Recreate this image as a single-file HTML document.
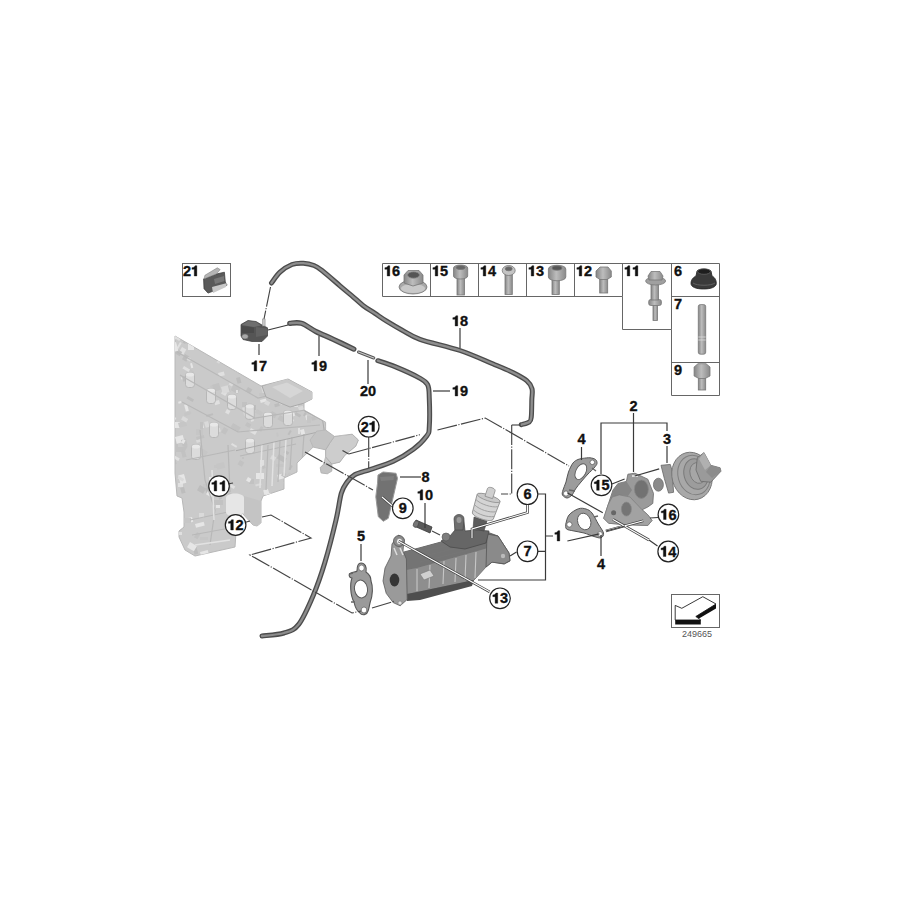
<!DOCTYPE html>
<html><head><meta charset="utf-8">
<style>
html,body{margin:0;padding:0;background:#fff;width:900px;height:900px;overflow:hidden}
svg{display:block}
.t{font-family:"Liberation Sans",sans-serif;font-weight:bold;font-size:14.5px;fill:#111;stroke:#111;stroke-width:0.35}
.t path{fill:#111;stroke:#111}
.ld{stroke:#3a3a3a;stroke-width:1.2;fill:none}
.bx{stroke:#666;stroke-width:1;fill:none}
.ds{stroke:#444;stroke-width:1.15;fill:none;stroke-dasharray:20 1.5 1.2 1.5}
.c{fill:#fff;stroke:#222;stroke-width:1.2}
</style></head><body>
<svg width="900" height="900" viewBox="0 0 900 900">
<rect width="900" height="900" fill="#fff"/>

<!-- ENGINE BLOCK -->
<g id="engine">
<defs><clipPath id="ec"><path d="M175,336 L261,386 L288,379 L312,392 L312,399 L304,403 L304,410 L325.6,422.2 L325.6,430 L334.4,436.4 L352.2,434.2 L358.4,440 L355.8,446.2 L345.1,455.1 L339.8,462.2 L331.8,464 L331.8,471.1 L327.3,473.8 L321.1,472.9 L320.2,467.6 L323.8,464 L325.6,456.9 L325.6,449.8 L313.1,447.1 L297,463 L297,472 L284,478 L284,489 L263,496 L261,501 L261,523 L257,526 L253,525 L242,513 L236,532 L235,547 L195,556 L185,550 L179,537 L179,531 L184,527 L184,512 L182,498 L177,496 L175,473 Z"/></clipPath></defs>
<path fill="#cacaca" stroke="#b8b8b8" stroke-width="1" d="M175,336 L261,386 L288,379 L312,392 L312,399 L304,403 L304,410 L325.6,422.2 L325.6,430 L334.4,436.4 L352.2,434.2 L358.4,440 L355.8,446.2 L345.1,455.1 L339.8,462.2 L331.8,464 L331.8,471.1 L327.3,473.8 L321.1,472.9 L320.2,467.6 L323.8,464 L325.6,456.9 L325.6,449.8 L313.1,447.1 L297,463 L297,472 L284,478 L284,489 L263,496 L261,501 L261,523 L257,526 L253,525 L242,513 L236,532 L235,547 L195,556 L185,550 L179,537 L179,531 L184,527 L184,512 L182,498 L177,496 L175,473 Z"/>
<g clip-path="url(#ec)">
<rect x="233" y="368" width="7" height="2" fill="#c6c6c6" transform="rotate(30 233 368)"/><rect x="241" y="347" width="6" height="2" fill="#e6e6e6" transform="rotate(0 241 347)"/><rect x="185" y="354" width="5" height="6" fill="#bdbdbd" transform="rotate(30 185 354)"/><rect x="291" y="465" width="2" height="5" fill="#bdbdbd" transform="rotate(30 291 465)"/><rect x="181" y="526" width="4" height="3" fill="#bdbdbd" transform="rotate(75 181 526)"/><rect x="230" y="517" width="3" height="5" fill="#dadada" transform="rotate(30 230 517)"/><rect x="242" y="457" width="2" height="2" fill="#c2c2c2" transform="rotate(0 242 457)"/><rect x="300" y="430" width="4" height="5" fill="#e6e6e6" transform="rotate(-15 300 430)"/><rect x="228" y="512" width="7" height="3" fill="#c6c6c6" transform="rotate(-15 228 512)"/><rect x="271" y="530" width="7" height="3" fill="#bdbdbd" transform="rotate(30 271 530)"/><rect x="268" y="371" width="4" height="7" fill="#e6e6e6" transform="rotate(30 268 371)"/><rect x="353" y="351" width="6" height="6" fill="#e0e0e0" transform="rotate(-15 353 351)"/><rect x="303" y="467" width="6" height="4" fill="#bdbdbd" transform="rotate(-15 303 467)"/><rect x="261" y="483" width="2" height="6" fill="#dadada" transform="rotate(75 261 483)"/><rect x="359" y="518" width="4" height="4" fill="#dadada" transform="rotate(-15 359 518)"/><rect x="176" y="437" width="3" height="3" fill="#bdbdbd" transform="rotate(30 176 437)"/><rect x="316" y="363" width="4" height="4" fill="#e6e6e6" transform="rotate(30 316 363)"/><rect x="203" y="424" width="4" height="3" fill="#e6e6e6" transform="rotate(75 203 424)"/><rect x="224" y="427" width="5" height="6" fill="#c2c2c2" transform="rotate(30 224 427)"/><rect x="188" y="368" width="7" height="2" fill="#c6c6c6" transform="rotate(30 188 368)"/><rect x="221" y="335" width="5" height="4" fill="#c6c6c6" transform="rotate(-15 221 335)"/><rect x="351" y="489" width="6" height="5" fill="#dadada" transform="rotate(30 351 489)"/><rect x="258" y="529" width="9" height="5" fill="#c6c6c6" transform="rotate(0 258 529)"/><rect x="247" y="422" width="5" height="4" fill="#c2c2c2" transform="rotate(30 247 422)"/><rect x="357" y="433" width="3" height="5" fill="#bdbdbd" transform="rotate(30 357 433)"/><rect x="279" y="454" width="9" height="5" fill="#bdbdbd" transform="rotate(30 279 454)"/><rect x="287" y="367" width="4" height="4" fill="#e0e0e0" transform="rotate(0 287 367)"/><rect x="195" y="524" width="9" height="4" fill="#e6e6e6" transform="rotate(-15 195 524)"/><rect x="188" y="357" width="4" height="3" fill="#dadada" transform="rotate(30 188 357)"/><rect x="269" y="380" width="9" height="4" fill="#dadada" transform="rotate(75 269 380)"/><rect x="344" y="504" width="4" height="5" fill="#bdbdbd" transform="rotate(-15 344 504)"/><rect x="269" y="537" width="4" height="3" fill="#c6c6c6" transform="rotate(75 269 537)"/><rect x="234" y="384" width="8" height="7" fill="#c2c2c2" transform="rotate(30 234 384)"/><rect x="326" y="500" width="4" height="5" fill="#e0e0e0" transform="rotate(30 326 500)"/><rect x="358" y="511" width="5" height="3" fill="#c6c6c6" transform="rotate(-15 358 511)"/><rect x="256" y="544" width="9" height="7" fill="#e0e0e0" transform="rotate(30 256 544)"/><rect x="213" y="385" width="3" height="3" fill="#c6c6c6" transform="rotate(75 213 385)"/><rect x="330" y="441" width="7" height="6" fill="#bdbdbd" transform="rotate(30 330 441)"/><rect x="343" y="509" width="7" height="4" fill="#c2c2c2" transform="rotate(0 343 509)"/><rect x="320" y="408" width="8" height="7" fill="#e6e6e6" transform="rotate(0 320 408)"/><rect x="247" y="546" width="7" height="3" fill="#c2c2c2" transform="rotate(30 247 546)"/><rect x="200" y="537" width="8" height="3" fill="#c6c6c6" transform="rotate(0 200 537)"/><rect x="296" y="412" width="6" height="3" fill="#bdbdbd" transform="rotate(30 296 412)"/><rect x="271" y="543" width="5" height="6" fill="#c2c2c2" transform="rotate(30 271 543)"/><rect x="219" y="400" width="4" height="5" fill="#e0e0e0" transform="rotate(75 219 400)"/><rect x="251" y="363" width="8" height="4" fill="#e6e6e6" transform="rotate(75 251 363)"/><rect x="325" y="450" width="8" height="6" fill="#c2c2c2" transform="rotate(75 325 450)"/><rect x="201" y="448" width="8" height="6" fill="#c6c6c6" transform="rotate(30 201 448)"/><rect x="318" y="368" width="3" height="5" fill="#bdbdbd" transform="rotate(75 318 368)"/><rect x="184" y="487" width="6" height="4" fill="#bdbdbd" transform="rotate(75 184 487)"/><rect x="183" y="377" width="2" height="2" fill="#e6e6e6" transform="rotate(75 183 377)"/><rect x="177" y="534" width="2" height="4" fill="#c6c6c6" transform="rotate(75 177 534)"/><rect x="268" y="489" width="5" height="5" fill="#e6e6e6" transform="rotate(75 268 489)"/><rect x="349" y="491" width="8" height="7" fill="#e0e0e0" transform="rotate(75 349 491)"/><rect x="340" y="379" width="5" height="4" fill="#e6e6e6" transform="rotate(0 340 379)"/><rect x="231" y="484" width="5" height="3" fill="#e0e0e0" transform="rotate(30 231 484)"/><rect x="341" y="369" width="7" height="5" fill="#c2c2c2" transform="rotate(-15 341 369)"/><rect x="338" y="551" width="4" height="7" fill="#e6e6e6" transform="rotate(0 338 551)"/><rect x="203" y="484" width="4" height="6" fill="#c6c6c6" transform="rotate(0 203 484)"/><rect x="236" y="378" width="4" height="6" fill="#bdbdbd" transform="rotate(-15 236 378)"/><rect x="276" y="433" width="2" height="4" fill="#c6c6c6" transform="rotate(-15 276 433)"/><rect x="268" y="348" width="9" height="6" fill="#bdbdbd" transform="rotate(30 268 348)"/><rect x="222" y="343" width="7" height="3" fill="#c2c2c2" transform="rotate(0 222 343)"/><rect x="332" y="485" width="9" height="4" fill="#c6c6c6" transform="rotate(75 332 485)"/><rect x="279" y="491" width="3" height="2" fill="#dadada" transform="rotate(30 279 491)"/><rect x="252" y="350" width="9" height="5" fill="#e0e0e0" transform="rotate(30 252 350)"/><rect x="286" y="384" width="4" height="3" fill="#bdbdbd" transform="rotate(-15 286 384)"/><rect x="359" y="428" width="8" height="5" fill="#bdbdbd" transform="rotate(75 359 428)"/><rect x="305" y="544" width="9" height="3" fill="#c2c2c2" transform="rotate(30 305 544)"/><rect x="347" y="475" width="6" height="3" fill="#e6e6e6" transform="rotate(75 347 475)"/><rect x="298" y="395" width="8" height="7" fill="#bdbdbd" transform="rotate(30 298 395)"/><rect x="175" y="447" width="9" height="5" fill="#c2c2c2" transform="rotate(0 175 447)"/><rect x="192" y="517" width="5" height="4" fill="#e6e6e6" transform="rotate(75 192 517)"/><rect x="230" y="382" width="4" height="3" fill="#dadada" transform="rotate(30 230 382)"/><rect x="248" y="412" width="2" height="3" fill="#bdbdbd" transform="rotate(-15 248 412)"/><rect x="253" y="346" width="7" height="4" fill="#c6c6c6" transform="rotate(-15 253 346)"/><rect x="285" y="489" width="2" height="3" fill="#e0e0e0" transform="rotate(0 285 489)"/><rect x="173" y="416" width="4" height="7" fill="#e0e0e0" transform="rotate(30 173 416)"/><rect x="178" y="532" width="4" height="3" fill="#e0e0e0" transform="rotate(0 178 532)"/><rect x="188" y="396" width="7" height="3" fill="#bdbdbd" transform="rotate(30 188 396)"/><rect x="222" y="354" width="5" height="2" fill="#bdbdbd" transform="rotate(-15 222 354)"/><rect x="229" y="386" width="6" height="5" fill="#c2c2c2" transform="rotate(75 229 386)"/><rect x="245" y="407" width="9" height="3" fill="#dadada" transform="rotate(75 245 407)"/><rect x="293" y="344" width="8" height="6" fill="#dadada" transform="rotate(0 293 344)"/><rect x="310" y="516" width="3" height="5" fill="#c6c6c6" transform="rotate(75 310 516)"/><rect x="329" y="514" width="8" height="5" fill="#dadada" transform="rotate(30 329 514)"/><rect x="188" y="343" width="6" height="7" fill="#e6e6e6" transform="rotate(0 188 343)"/><rect x="277" y="475" width="6" height="5" fill="#e6e6e6" transform="rotate(-15 277 475)"/><rect x="173" y="513" width="7" height="5" fill="#c6c6c6" transform="rotate(30 173 513)"/><rect x="296" y="349" width="7" height="3" fill="#bdbdbd" transform="rotate(-15 296 349)"/><rect x="216" y="503" width="4" height="5" fill="#e6e6e6" transform="rotate(0 216 503)"/><rect x="331" y="351" width="8" height="3" fill="#bdbdbd" transform="rotate(75 331 351)"/><rect x="291" y="378" width="6" height="4" fill="#dadada" transform="rotate(-15 291 378)"/><rect x="289" y="364" width="5" height="4" fill="#dadada" transform="rotate(30 289 364)"/><rect x="302" y="485" width="4" height="5" fill="#e6e6e6" transform="rotate(0 302 485)"/><rect x="260" y="361" width="8" height="3" fill="#bdbdbd" transform="rotate(0 260 361)"/><rect x="175" y="437" width="8" height="7" fill="#e6e6e6" transform="rotate(-15 175 437)"/><rect x="245" y="539" width="9" height="2" fill="#bdbdbd" transform="rotate(30 245 539)"/><rect x="313" y="393" width="5" height="5" fill="#dadada" transform="rotate(75 313 393)"/><rect x="225" y="359" width="5" height="4" fill="#e6e6e6" transform="rotate(0 225 359)"/><rect x="177" y="335" width="5" height="4" fill="#e0e0e0" transform="rotate(30 177 335)"/><rect x="250" y="418" width="3" height="4" fill="#e0e0e0" transform="rotate(-15 250 418)"/><rect x="330" y="361" width="8" height="6" fill="#dadada" transform="rotate(-15 330 361)"/><rect x="220" y="349" width="5" height="6" fill="#bdbdbd" transform="rotate(-15 220 349)"/><rect x="346" y="503" width="8" height="3" fill="#bdbdbd" transform="rotate(-15 346 503)"/><rect x="291" y="367" width="9" height="4" fill="#e0e0e0" transform="rotate(30 291 367)"/><rect x="317" y="510" width="5" height="2" fill="#dadada" transform="rotate(0 317 510)"/><rect x="344" y="545" width="6" height="6" fill="#bdbdbd" transform="rotate(0 344 545)"/><rect x="257" y="503" width="7" height="3" fill="#bdbdbd" transform="rotate(75 257 503)"/><rect x="196" y="440" width="4" height="3" fill="#dadada" transform="rotate(-15 196 440)"/><rect x="248" y="387" width="5" height="5" fill="#bdbdbd" transform="rotate(30 248 387)"/><rect x="293" y="351" width="6" height="6" fill="#c6c6c6" transform="rotate(30 293 351)"/><rect x="257" y="409" width="7" height="4" fill="#c6c6c6" transform="rotate(30 257 409)"/><rect x="218" y="373" width="6" height="4" fill="#e0e0e0" transform="rotate(-15 218 373)"/><rect x="324" y="379" width="2" height="6" fill="#e6e6e6" transform="rotate(0 324 379)"/><rect x="312" y="381" width="4" height="6" fill="#e6e6e6" transform="rotate(-15 312 381)"/><rect x="280" y="415" width="7" height="5" fill="#c2c2c2" transform="rotate(30 280 415)"/><rect x="223" y="390" width="5" height="4" fill="#e0e0e0" transform="rotate(30 223 390)"/><rect x="196" y="429" width="7" height="6" fill="#c6c6c6" transform="rotate(0 196 429)"/><rect x="172" y="422" width="8" height="6" fill="#e6e6e6" transform="rotate(0 172 422)"/><rect x="219" y="358" width="3" height="5" fill="#dadada" transform="rotate(30 219 358)"/><rect x="349" y="496" width="7" height="6" fill="#e6e6e6" transform="rotate(30 349 496)"/><rect x="276" y="343" width="7" height="3" fill="#bdbdbd" transform="rotate(-15 276 343)"/><rect x="353" y="474" width="6" height="4" fill="#bdbdbd" transform="rotate(30 353 474)"/><rect x="185" y="451" width="6" height="4" fill="#c2c2c2" transform="rotate(75 185 451)"/><rect x="172" y="454" width="9" height="3" fill="#e0e0e0" transform="rotate(30 172 454)"/><rect x="261" y="387" width="4" height="7" fill="#dadada" transform="rotate(-15 261 387)"/><rect x="182" y="377" width="8" height="5" fill="#bdbdbd" transform="rotate(-15 182 377)"/><rect x="215" y="429" width="5" height="4" fill="#dadada" transform="rotate(-15 215 429)"/><rect x="307" y="415" width="5" height="2" fill="#e0e0e0" transform="rotate(75 307 415)"/><rect x="185" y="445" width="3" height="6" fill="#c2c2c2" transform="rotate(30 185 445)"/><rect x="259" y="393" width="8" height="3" fill="#c6c6c6" transform="rotate(0 259 393)"/><rect x="287" y="535" width="5" height="7" fill="#bdbdbd" transform="rotate(75 287 535)"/><rect x="200" y="422" width="3" height="7" fill="#c2c2c2" transform="rotate(0 200 422)"/><rect x="182" y="347" width="5" height="6" fill="#e0e0e0" transform="rotate(30 182 347)"/><rect x="360" y="543" width="4" height="3" fill="#c6c6c6" transform="rotate(0 360 543)"/><rect x="178" y="483" width="5" height="4" fill="#e0e0e0" transform="rotate(0 178 483)"/><rect x="204" y="335" width="4" height="4" fill="#bdbdbd" transform="rotate(75 204 335)"/><rect x="353" y="380" width="4" height="6" fill="#e6e6e6" transform="rotate(30 353 380)"/><rect x="181" y="440" width="5" height="7" fill="#c2c2c2" transform="rotate(-15 181 440)"/><rect x="240" y="535" width="2" height="4" fill="#dadada" transform="rotate(0 240 535)"/><rect x="180" y="342" width="2" height="7" fill="#e0e0e0" transform="rotate(30 180 342)"/><rect x="312" y="535" width="4" height="3" fill="#c6c6c6" transform="rotate(30 312 535)"/><rect x="221" y="495" width="4" height="3" fill="#bdbdbd" transform="rotate(75 221 495)"/><rect x="344" y="476" width="9" height="2" fill="#c2c2c2" transform="rotate(30 344 476)"/><rect x="261" y="548" width="9" height="4" fill="#e0e0e0" transform="rotate(0 261 548)"/><rect x="325" y="364" width="5" height="2" fill="#dadada" transform="rotate(-15 325 364)"/><rect x="327" y="507" width="6" height="4" fill="#e0e0e0" transform="rotate(0 327 507)"/><rect x="240" y="509" width="3" height="3" fill="#c2c2c2" transform="rotate(30 240 509)"/><rect x="249" y="479" width="5" height="5" fill="#c2c2c2" transform="rotate(0 249 479)"/><rect x="338" y="555" width="4" height="2" fill="#bdbdbd" transform="rotate(0 338 555)"/><rect x="266" y="493" width="5" height="3" fill="#e6e6e6" transform="rotate(0 266 493)"/><rect x="289" y="485" width="7" height="6" fill="#dadada" transform="rotate(30 289 485)"/><rect x="319" y="400" width="4" height="3" fill="#e0e0e0" transform="rotate(-15 319 400)"/><rect x="209" y="389" width="4" height="3" fill="#c6c6c6" transform="rotate(30 209 389)"/><rect x="233" y="423" width="9" height="5" fill="#c2c2c2" transform="rotate(30 233 423)"/><rect x="295" y="556" width="3" height="4" fill="#c2c2c2" transform="rotate(0 295 556)"/><rect x="344" y="343" width="4" height="3" fill="#c2c2c2" transform="rotate(75 344 343)"/><rect x="355" y="465" width="9" height="4" fill="#c2c2c2" transform="rotate(0 355 465)"/><rect x="285" y="508" width="7" height="2" fill="#dadada" transform="rotate(75 285 508)"/><rect x="305" y="412" width="2" height="4" fill="#bdbdbd" transform="rotate(30 305 412)"/><rect x="360" y="343" width="7" height="7" fill="#bdbdbd" transform="rotate(-15 360 343)"/><rect x="249" y="417" width="6" height="2" fill="#bdbdbd" transform="rotate(0 249 417)"/><rect x="275" y="348" width="3" height="4" fill="#c6c6c6" transform="rotate(30 275 348)"/><rect x="292" y="354" width="3" height="5" fill="#e6e6e6" transform="rotate(-15 292 354)"/><rect x="298" y="428" width="2" height="6" fill="#e0e0e0" transform="rotate(0 298 428)"/><rect x="250" y="528" width="9" height="4" fill="#c2c2c2" transform="rotate(0 250 528)"/><rect x="309" y="380" width="2" height="7" fill="#e6e6e6" transform="rotate(30 309 380)"/><rect x="326" y="425" width="8" height="4" fill="#c2c2c2" transform="rotate(30 326 425)"/><rect x="175" y="458" width="6" height="7" fill="#bdbdbd" transform="rotate(75 175 458)"/><rect x="289" y="417" width="6" height="3" fill="#e0e0e0" transform="rotate(30 289 417)"/><rect x="270" y="541" width="3" height="4" fill="#c2c2c2" transform="rotate(-15 270 541)"/><rect x="196" y="545" width="9" height="4" fill="#bdbdbd" transform="rotate(75 196 545)"/><rect x="346" y="421" width="8" height="5" fill="#c2c2c2" transform="rotate(30 346 421)"/><rect x="289" y="472" width="3" height="4" fill="#c6c6c6" transform="rotate(30 289 472)"/><rect x="180" y="544" width="3" height="4" fill="#c2c2c2" transform="rotate(30 180 544)"/><rect x="354" y="517" width="3" height="6" fill="#dadada" transform="rotate(30 354 517)"/><rect x="298" y="407" width="5" height="4" fill="#dadada" transform="rotate(-15 298 407)"/><rect x="294" y="403" width="4" height="4" fill="#e0e0e0" transform="rotate(0 294 403)"/><rect x="267" y="374" width="2" height="7" fill="#e6e6e6" transform="rotate(30 267 374)"/><rect x="256" y="473" width="8" height="6" fill="#e6e6e6" transform="rotate(0 256 473)"/><rect x="192" y="363" width="5" height="2" fill="#e6e6e6" transform="rotate(75 192 363)"/><rect x="268" y="343" width="6" height="2" fill="#dadada" transform="rotate(-15 268 343)"/><rect x="318" y="449" width="2" height="5" fill="#e6e6e6" transform="rotate(30 318 449)"/><rect x="177" y="349" width="6" height="5" fill="#bdbdbd" transform="rotate(30 177 349)"/><rect x="197" y="532" width="4" height="6" fill="#c2c2c2" transform="rotate(30 197 532)"/><rect x="184" y="413" width="7" height="3" fill="#c6c6c6" transform="rotate(-15 184 413)"/><rect x="342" y="436" width="4" height="7" fill="#e6e6e6" transform="rotate(30 342 436)"/><rect x="283" y="472" width="4" height="4" fill="#c2c2c2" transform="rotate(30 283 472)"/><rect x="248" y="477" width="4" height="4" fill="#e6e6e6" transform="rotate(30 248 477)"/><rect x="321" y="393" width="7" height="2" fill="#e0e0e0" transform="rotate(0 321 393)"/><rect x="276" y="464" width="8" height="3" fill="#c6c6c6" transform="rotate(0 276 464)"/><rect x="311" y="417" width="5" height="4" fill="#c2c2c2" transform="rotate(-15 311 417)"/><rect x="234" y="352" width="4" height="5" fill="#bdbdbd" transform="rotate(-15 234 352)"/><rect x="326" y="391" width="6" height="7" fill="#c6c6c6" transform="rotate(-15 326 391)"/><rect x="310" y="501" width="4" height="3" fill="#dadada" transform="rotate(0 310 501)"/><rect x="251" y="416" width="2" height="4" fill="#c6c6c6" transform="rotate(30 251 416)"/><rect x="176" y="335" width="4" height="3" fill="#e0e0e0" transform="rotate(75 176 335)"/><rect x="214" y="465" width="6" height="3" fill="#c6c6c6" transform="rotate(0 214 465)"/><rect x="202" y="337" width="8" height="6" fill="#e6e6e6" transform="rotate(30 202 337)"/><rect x="184" y="366" width="7" height="3" fill="#e0e0e0" transform="rotate(30 184 366)"/><rect x="183" y="518" width="8" height="5" fill="#c6c6c6" transform="rotate(0 183 518)"/><rect x="285" y="450" width="5" height="3" fill="#bdbdbd" transform="rotate(30 285 450)"/><rect x="184" y="340" width="3" height="3" fill="#bdbdbd" transform="rotate(30 184 340)"/><rect x="287" y="481" width="3" height="4" fill="#c6c6c6" transform="rotate(75 287 481)"/><rect x="293" y="479" width="5" height="5" fill="#c6c6c6" transform="rotate(-15 293 479)"/><rect x="184" y="474" width="9" height="6" fill="#e6e6e6" transform="rotate(75 184 474)"/><rect x="173" y="523" width="7" height="4" fill="#dadada" transform="rotate(0 173 523)"/><rect x="205" y="557" width="4" height="5" fill="#bdbdbd" transform="rotate(-15 205 557)"/><rect x="340" y="541" width="9" height="3" fill="#bdbdbd" transform="rotate(-15 340 541)"/><rect x="292" y="486" width="7" height="7" fill="#e0e0e0" transform="rotate(-15 292 486)"/><rect x="293" y="550" width="4" height="6" fill="#bdbdbd" transform="rotate(30 293 550)"/><rect x="221" y="387" width="7" height="7" fill="#dadada" transform="rotate(-15 221 387)"/><rect x="208" y="421" width="6" height="4" fill="#dadada" transform="rotate(75 208 421)"/><rect x="260" y="522" width="7" height="6" fill="#e6e6e6" transform="rotate(30 260 522)"/><rect x="279" y="403" width="3" height="5" fill="#bdbdbd" transform="rotate(75 279 403)"/><rect x="343" y="366" width="2" height="3" fill="#c2c2c2" transform="rotate(-15 343 366)"/><rect x="356" y="491" width="2" height="3" fill="#dadada" transform="rotate(30 356 491)"/><rect x="303" y="499" width="2" height="5" fill="#e0e0e0" transform="rotate(30 303 499)"/><rect x="326" y="518" width="8" height="2" fill="#dadada" transform="rotate(0 326 518)"/><rect x="192" y="380" width="3" height="2" fill="#dadada" transform="rotate(30 192 380)"/><rect x="327" y="475" width="4" height="2" fill="#bdbdbd" transform="rotate(30 327 475)"/><rect x="227" y="409" width="4" height="4" fill="#e0e0e0" transform="rotate(30 227 409)"/><rect x="307" y="416" width="4" height="7" fill="#c6c6c6" transform="rotate(0 307 416)"/><rect x="332" y="472" width="2" height="4" fill="#e6e6e6" transform="rotate(75 332 472)"/><rect x="317" y="412" width="7" height="5" fill="#c2c2c2" transform="rotate(30 317 412)"/><rect x="280" y="398" width="5" height="5" fill="#e0e0e0" transform="rotate(30 280 398)"/><rect x="173" y="444" width="5" height="6" fill="#c2c2c2" transform="rotate(0 173 444)"/><rect x="283" y="548" width="6" height="5" fill="#c2c2c2" transform="rotate(-15 283 548)"/><rect x="325" y="544" width="4" height="3" fill="#dadada" transform="rotate(30 325 544)"/><rect x="264" y="556" width="6" height="3" fill="#e0e0e0" transform="rotate(-15 264 556)"/><rect x="190" y="542" width="8" height="6" fill="#e6e6e6" transform="rotate(30 190 542)"/><rect x="242" y="402" width="5" height="5" fill="#c2c2c2" transform="rotate(0 242 402)"/><rect x="357" y="475" width="9" height="3" fill="#c6c6c6" transform="rotate(75 357 475)"/><rect x="294" y="412" width="4" height="3" fill="#e6e6e6" transform="rotate(75 294 412)"/><rect x="311" y="372" width="5" height="6" fill="#c6c6c6" transform="rotate(30 311 372)"/><rect x="196" y="437" width="8" height="3" fill="#c2c2c2" transform="rotate(-15 196 437)"/><rect x="229" y="492" width="8" height="3" fill="#c2c2c2" transform="rotate(30 229 492)"/><rect x="308" y="469" width="4" height="3" fill="#c2c2c2" transform="rotate(-15 308 469)"/><rect x="355" y="497" width="3" height="7" fill="#bdbdbd" transform="rotate(30 355 497)"/><rect x="244" y="554" width="8" height="6" fill="#e6e6e6" transform="rotate(-15 244 554)"/><rect x="209" y="477" width="3" height="3" fill="#e6e6e6" transform="rotate(0 209 477)"/><rect x="178" y="423" width="8" height="5" fill="#c6c6c6" transform="rotate(-15 178 423)"/><rect x="259" y="366" width="6" height="4" fill="#dadada" transform="rotate(30 259 366)"/><rect x="343" y="430" width="6" height="6" fill="#e6e6e6" transform="rotate(30 343 430)"/><rect x="298" y="480" width="8" height="5" fill="#c6c6c6" transform="rotate(30 298 480)"/><rect x="300" y="478" width="5" height="4" fill="#dadada" transform="rotate(30 300 478)"/><rect x="340" y="388" width="5" height="6" fill="#c2c2c2" transform="rotate(-15 340 388)"/><rect x="332" y="442" width="2" height="6" fill="#c6c6c6" transform="rotate(30 332 442)"/><rect x="340" y="407" width="2" height="6" fill="#bdbdbd" transform="rotate(30 340 407)"/><rect x="219" y="383" width="7" height="7" fill="#c2c2c2" transform="rotate(75 219 383)"/><rect x="237" y="524" width="5" height="3" fill="#e6e6e6" transform="rotate(75 237 524)"/><rect x="175" y="512" width="5" height="4" fill="#dadada" transform="rotate(0 175 512)"/><rect x="211" y="487" width="5" height="6" fill="#bdbdbd" transform="rotate(75 211 487)"/><rect x="239" y="347" width="4" height="4" fill="#bdbdbd" transform="rotate(30 239 347)"/><rect x="251" y="428" width="7" height="4" fill="#e0e0e0" transform="rotate(30 251 428)"/><rect x="214" y="500" width="9" height="5" fill="#c2c2c2" transform="rotate(0 214 500)"/><rect x="259" y="371" width="9" height="2" fill="#dadada" transform="rotate(30 259 371)"/><rect x="260" y="460" width="4" height="7" fill="#e0e0e0" transform="rotate(0 260 460)"/><rect x="260" y="400" width="6" height="3" fill="#e6e6e6" transform="rotate(-15 260 400)"/><rect x="319" y="386" width="7" height="5" fill="#e6e6e6" transform="rotate(30 319 386)"/><rect x="263" y="514" width="8" height="4" fill="#dadada" transform="rotate(-15 263 514)"/><rect x="232" y="443" width="6" height="2" fill="#e0e0e0" transform="rotate(30 232 443)"/><rect x="347" y="525" width="2" height="6" fill="#e0e0e0" transform="rotate(30 347 525)"/><rect x="272" y="411" width="6" height="5" fill="#c2c2c2" transform="rotate(30 272 411)"/><rect x="295" y="390" width="3" height="3" fill="#c2c2c2" transform="rotate(30 295 390)"/><rect x="318" y="412" width="3" height="7" fill="#c6c6c6" transform="rotate(30 318 412)"/><rect x="287" y="488" width="9" height="2" fill="#c6c6c6" transform="rotate(-15 287 488)"/><rect x="209" y="489" width="6" height="6" fill="#e6e6e6" transform="rotate(30 209 489)"/><rect x="276" y="393" width="4" height="3" fill="#e6e6e6" transform="rotate(75 276 393)"/><rect x="183" y="439" width="3" height="4" fill="#e6e6e6" transform="rotate(30 183 439)"/><rect x="273" y="527" width="2" height="6" fill="#e6e6e6" transform="rotate(75 273 527)"/><rect x="266" y="400" width="5" height="4" fill="#dadada" transform="rotate(30 266 400)"/><rect x="206" y="415" width="7" height="2" fill="#bdbdbd" transform="rotate(-15 206 415)"/><rect x="324" y="355" width="5" height="6" fill="#c2c2c2" transform="rotate(30 324 355)"/><rect x="212" y="427" width="3" height="2" fill="#dadada" transform="rotate(-15 212 427)"/><rect x="236" y="508" width="6" height="7" fill="#e0e0e0" transform="rotate(0 236 508)"/><rect x="236" y="390" width="2" height="3" fill="#e0e0e0" transform="rotate(0 236 390)"/><rect x="248" y="447" width="4" height="5" fill="#c2c2c2" transform="rotate(0 248 447)"/><rect x="321" y="408" width="4" height="3" fill="#c6c6c6" transform="rotate(30 321 408)"/><rect x="319" y="343" width="7" height="6" fill="#c6c6c6" transform="rotate(75 319 343)"/><rect x="181" y="401" width="2" height="3" fill="#e6e6e6" transform="rotate(75 181 401)"/><rect x="316" y="347" width="6" height="5" fill="#e6e6e6" transform="rotate(75 316 347)"/><rect x="200" y="485" width="7" height="6" fill="#bdbdbd" transform="rotate(30 200 485)"/><rect x="179" y="476" width="6" height="3" fill="#dadada" transform="rotate(30 179 476)"/><rect x="335" y="428" width="3" height="7" fill="#bdbdbd" transform="rotate(-15 335 428)"/><rect x="336" y="365" width="4" height="6" fill="#e0e0e0" transform="rotate(30 336 365)"/><rect x="251" y="405" width="5" height="5" fill="#bdbdbd" transform="rotate(0 251 405)"/><rect x="279" y="343" width="3" height="6" fill="#c6c6c6" transform="rotate(0 279 343)"/><rect x="256" y="337" width="5" height="5" fill="#dadada" transform="rotate(30 256 337)"/><rect x="261" y="426" width="3" height="5" fill="#c2c2c2" transform="rotate(30 261 426)"/><rect x="290" y="430" width="2" height="5" fill="#bdbdbd" transform="rotate(30 290 430)"/><rect x="335" y="363" width="2" height="6" fill="#c2c2c2" transform="rotate(0 335 363)"/><rect x="310" y="376" width="2" height="6" fill="#dadada" transform="rotate(30 310 376)"/><rect x="309" y="353" width="6" height="6" fill="#e6e6e6" transform="rotate(-15 309 353)"/><rect x="344" y="346" width="2" height="2" fill="#dadada" transform="rotate(75 344 346)"/><rect x="187" y="404" width="7" height="3" fill="#e6e6e6" transform="rotate(75 187 404)"/><rect x="183" y="416" width="6" height="4" fill="#dadada" transform="rotate(30 183 416)"/><rect x="199" y="513" width="5" height="5" fill="#dadada" transform="rotate(0 199 513)"/><rect x="262" y="508" width="5" height="3" fill="#c6c6c6" transform="rotate(-15 262 508)"/><rect x="227" y="348" width="9" height="6" fill="#c6c6c6" transform="rotate(-15 227 348)"/><rect x="335" y="497" width="2" height="3" fill="#e0e0e0" transform="rotate(75 335 497)"/><rect x="253" y="533" width="5" height="5" fill="#c6c6c6" transform="rotate(30 253 533)"/><rect x="324" y="397" width="2" height="3" fill="#e6e6e6" transform="rotate(30 324 397)"/><rect x="282" y="517" width="8" height="2" fill="#c2c2c2" transform="rotate(75 282 517)"/><rect x="200" y="552" width="8" height="5" fill="#e6e6e6" transform="rotate(-15 200 552)"/><rect x="272" y="455" width="5" height="4" fill="#dadada" transform="rotate(30 272 455)"/><rect x="230" y="347" width="5" height="6" fill="#e0e0e0" transform="rotate(75 230 347)"/><rect x="313" y="511" width="5" height="2" fill="#e0e0e0" transform="rotate(30 313 511)"/><rect x="216" y="464" width="8" height="6" fill="#c6c6c6" transform="rotate(-15 216 464)"/><rect x="262" y="466" width="3" height="3" fill="#c2c2c2" transform="rotate(-15 262 466)"/><rect x="240" y="460" width="5" height="5" fill="#c2c2c2" transform="rotate(30 240 460)"/><rect x="180" y="557" width="5" height="3" fill="#dadada" transform="rotate(0 180 557)"/><rect x="320" y="369" width="6" height="4" fill="#c6c6c6" transform="rotate(75 320 369)"/><rect x="176" y="342" width="9" height="6" fill="#e6e6e6" transform="rotate(75 176 342)"/><rect x="279" y="393" width="7" height="4" fill="#e6e6e6" transform="rotate(75 279 393)"/><rect x="326" y="550" width="4" height="2" fill="#c2c2c2" transform="rotate(30 326 550)"/><rect x="243" y="340" width="2" height="4" fill="#dadada" transform="rotate(0 243 340)"/><rect x="264" y="523" width="8" height="6" fill="#dadada" transform="rotate(0 264 523)"/><rect x="345" y="492" width="3" height="4" fill="#c2c2c2" transform="rotate(30 345 492)"/>
<g transform="translate(211 396)"><rect x="-4.5" y="-7.5" width="9" height="15" rx="3" fill="#dcdcdc" stroke="#b0b0b0" stroke-width="0.8"/><ellipse cx="0" cy="-5.5" rx="4.0" ry="2" fill="#e8e8e8"/></g>
<g transform="translate(249.8 411.8)"><rect x="-4.5" y="-7.5" width="9" height="15" rx="3" fill="#dcdcdc" stroke="#b0b0b0" stroke-width="0.8"/><ellipse cx="0" cy="-5.5" rx="4.0" ry="2" fill="#e8e8e8"/></g>
<g transform="translate(190 380)"><rect x="-4.5" y="-7.5" width="9" height="15" rx="3" fill="#dcdcdc" stroke="#b0b0b0" stroke-width="0.8"/><ellipse cx="0" cy="-5.5" rx="4.0" ry="2" fill="#e8e8e8"/></g>
<g transform="translate(232 402)"><rect x="-4.5" y="-7.5" width="9" height="15" rx="3" fill="#dcdcdc" stroke="#b0b0b0" stroke-width="0.8"/><ellipse cx="0" cy="-5.5" rx="4.0" ry="2" fill="#e8e8e8"/></g>
<g transform="translate(268 420)"><rect x="-4.5" y="-7.5" width="9" height="15" rx="3" fill="#dcdcdc" stroke="#b0b0b0" stroke-width="0.8"/><ellipse cx="0" cy="-5.5" rx="4.0" ry="2" fill="#e8e8e8"/></g>
<g transform="translate(214 430)"><rect x="-4.5" y="-7.5" width="9" height="15" rx="3" fill="#dcdcdc" stroke="#b0b0b0" stroke-width="0.8"/><ellipse cx="0" cy="-5.5" rx="4.0" ry="2" fill="#e8e8e8"/></g>
<g transform="translate(250 446)"><rect x="-4.5" y="-7.5" width="9" height="15" rx="3" fill="#dcdcdc" stroke="#b0b0b0" stroke-width="0.8"/><ellipse cx="0" cy="-5.5" rx="4.0" ry="2" fill="#e8e8e8"/></g>
<g transform="translate(288 418)"><rect x="-4.5" y="-7.5" width="9" height="15" rx="3" fill="#dcdcdc" stroke="#b0b0b0" stroke-width="0.8"/><ellipse cx="0" cy="-5.5" rx="4.0" ry="2" fill="#e8e8e8"/></g>
<g transform="translate(196 452)"><rect x="-4.5" y="-7.5" width="9" height="15" rx="3" fill="#dcdcdc" stroke="#b0b0b0" stroke-width="0.8"/><ellipse cx="0" cy="-5.5" rx="4.0" ry="2" fill="#e8e8e8"/></g>
<g fill="none" stroke="#b8b8b8" stroke-width="1.2">
<path d="M177,352 L258,398 L300,388"/>
<path d="M180,375 L255,418 L318,408"/>
<path d="M182,402 L238,432 L320,425"/>
<path d="M240,456 L296,444"/>
<path d="M200,430 L205,480 L215,510 L210,545"/>
<path d="M228,445 L230,492"/>
<path d="M268,445 L266,490 M280,440 L278,482 M292,437 L290,470 M304,434 L302,462"/>
<path d="M313,447 L325,440 L340,440"/>
<path d="M190,520 L228,512 M192,535 L230,528"/>
<path d="M186,460 L235,450"/>
</g>
<g fill="none" stroke="#e2e2e2" stroke-width="1.5">
<path d="M262,444 L260,488 M274,442 L272,486 M286,439 L284,476"/>
<path d="M212,470 L214,520"/>
<path d="M195,545 L230,540"/>
</g>
<path fill="#c9c9c9" stroke="#a9a9a9" stroke-width="1" d="M262,386 L286.6,378 L312.6,391.7 L314,398.9 L303.9,403.2 L290,407 L266,397 Z"/>
<path fill="#d6d6d6" d="M272,387 L287,382.5 L303,391 L290,398 Z"/>
<path fill="none" stroke="#ababab" stroke-width="1" d="M303.9,410.5 L322.7,420.6 L324.2,430.7 M236,450.7 L318,432"/>
<path fill="#e6e6e6" d="M226,498 C226,492 244,492 244,498 L244,512 C244,518 226,518 226,512 Z"/>
<path fill="#c4c4c4" d="M244,496 L261,501 L261,523 L257,526 L253,525 L244,514 Z"/>
<path fill="#cdcdcd" stroke="#aaaaaa" stroke-width="0.9" d="M334.4,436.4 L352.2,434.2 L358.4,440 L355.8,446.2 L345.1,455.1 L339.8,462.2 L331.8,464 L325.6,456.9 L325.6,449.8 L330,442.7 Z"/>
<path fill="#c2c2c2" stroke="#b0b0b0" stroke-width="0.7" d="M331.8,464 L331.8,471.1 L327.3,473.8 L321.1,472.9 L320.2,467.6 L323.8,464 Z"/>
<path fill="#c3c3c3" stroke="#b0b0b0" stroke-width="0.6" d="M316.7,431.1 L325.6,430 L334.4,436.4 L330,442.7 L325.6,449.8 L313.1,447.1 L310,440 Z"/>
</g>
</g>

<!-- HOSES -->
<g fill="none" stroke-linecap="round" stroke-linejoin="round">
<path stroke="#4c4c4c" stroke-width="5" d="M271.5,283.0 C272.9,281.2 276.6,275.3 280.0,272.2 C283.4,269.1 288.1,266.0 292.0,264.5 C295.9,263.0 299.6,263.0 303.3,263.2 C307.0,263.4 310.9,264.3 314.0,265.5 C317.1,266.7 317.7,267.1 322.0,270.5 C326.3,273.9 335.1,281.6 340.0,285.8 C344.9,290.0 347.8,292.3 351.7,295.6 C355.6,298.9 359.4,302.7 363.3,305.7 C367.2,308.7 371.1,310.8 375.0,313.4 C378.9,316.0 382.2,318.4 386.7,321.2 C391.2,324.0 396.6,327.2 402.2,330.2 C407.8,333.2 410.4,335.9 420.0,339.3 C429.6,342.7 447.8,346.4 460.0,350.5 C472.2,354.6 484.4,360.3 493.3,364.0 C502.2,367.7 507.7,369.9 513.3,372.7 C518.9,375.5 523.6,378.0 526.7,380.7 C529.8,383.4 531.1,385.5 532.0,388.7 C532.9,391.9 531.9,395.3 531.8,400.0 C531.7,404.7 531.7,413.0 531.3,416.7 C530.9,420.4 531.0,420.7 529.3,422.0 C527.6,423.3 522.6,424.2 521.3,424.7"/>
<path stroke="#8e8e8e" stroke-width="2.3" d="M271.5,283.0 C272.9,281.2 276.6,275.3 280.0,272.2 C283.4,269.1 288.1,266.0 292.0,264.5 C295.9,263.0 299.6,263.0 303.3,263.2 C307.0,263.4 310.9,264.3 314.0,265.5 C317.1,266.7 317.7,267.1 322.0,270.5 C326.3,273.9 335.1,281.6 340.0,285.8 C344.9,290.0 347.8,292.3 351.7,295.6 C355.6,298.9 359.4,302.7 363.3,305.7 C367.2,308.7 371.1,310.8 375.0,313.4 C378.9,316.0 382.2,318.4 386.7,321.2 C391.2,324.0 396.6,327.2 402.2,330.2 C407.8,333.2 410.4,335.9 420.0,339.3 C429.6,342.7 447.8,346.4 460.0,350.5 C472.2,354.6 484.4,360.3 493.3,364.0 C502.2,367.7 507.7,369.9 513.3,372.7 C518.9,375.5 523.6,378.0 526.7,380.7 C529.8,383.4 531.1,385.5 532.0,388.7 C532.9,391.9 531.9,395.3 531.8,400.0 C531.7,404.7 531.7,413.0 531.3,416.7 C530.9,420.4 531.0,420.7 529.3,422.0 C527.6,423.3 522.6,424.2 521.3,424.7"/>
<path stroke="#4c4c4c" stroke-width="5.3" d="M289.8,323.3 C291.7,323.3 297.0,322.0 301.3,323.3 C305.6,324.6 310.3,328.6 315.6,331.3 C320.9,334.0 326.9,336.3 333.3,339.3 C339.7,342.3 350.4,347.5 353.8,349.1"/>
<path stroke="#888" stroke-width="2.5" d="M289.8,323.3 C291.7,323.3 297.0,322.0 301.3,323.3 C305.6,324.6 310.3,328.6 315.6,331.3 C320.9,334.0 326.9,336.3 333.3,339.3 C339.7,342.3 350.4,347.5 353.8,349.1"/>
<path stroke="#4c4c4c" stroke-width="5" d="M377.8,360.7 C380.8,361.7 388.8,364.1 395.6,366.9 C402.4,369.7 413.4,374.6 418.7,377.6 C424.0,380.6 425.8,381.1 427.6,384.7 C429.4,388.2 429.0,391.9 429.3,398.9 C429.6,405.9 429.7,420.5 429.3,426.7 C428.9,432.9 429.4,432.2 426.7,436.0 C424.0,439.8 418.9,445.1 413.3,449.3 C407.7,453.5 400.4,458.0 393.3,461.3 C386.2,464.6 377.1,467.1 370.7,469.3 C364.3,471.5 358.7,472.5 354.7,474.7 C350.7,476.9 348.9,479.6 346.7,482.7 C344.5,485.8 343.1,487.1 341.3,493.3 C339.5,499.5 338.7,508.6 336.0,520.0 C333.3,531.5 328.8,549.3 325.0,562.0 C321.2,574.7 317.4,585.6 313.0,596.0 C308.6,606.4 303.5,618.2 298.7,624.4 C293.9,630.6 290.1,631.1 284.0,633.0 C277.9,634.9 265.7,635.5 262.0,636.0"/>
<path stroke="#8c8c8c" stroke-width="2.3" d="M377.8,360.7 C380.8,361.7 388.8,364.1 395.6,366.9 C402.4,369.7 413.4,374.6 418.7,377.6 C424.0,380.6 425.8,381.1 427.6,384.7 C429.4,388.2 429.0,391.9 429.3,398.9 C429.6,405.9 429.7,420.5 429.3,426.7 C428.9,432.9 429.4,432.2 426.7,436.0 C424.0,439.8 418.9,445.1 413.3,449.3 C407.7,453.5 400.4,458.0 393.3,461.3 C386.2,464.6 377.1,467.1 370.7,469.3 C364.3,471.5 358.7,472.5 354.7,474.7 C350.7,476.9 348.9,479.6 346.7,482.7 C344.5,485.8 343.1,487.1 341.3,493.3 C339.5,499.5 338.7,508.6 336.0,520.0 C333.3,531.5 328.8,549.3 325.0,562.0 C321.2,574.7 317.4,585.6 313.0,596.0 C308.6,606.4 303.5,618.2 298.7,624.4 C293.9,630.6 290.1,631.1 284.0,633.0 C277.9,634.9 265.7,635.5 262.0,636.0"/>
<path stroke="#555" stroke-width="3" d="M358.5,352 L373.8,358"/>
<path stroke="#c8c8c8" stroke-width="1.2" d="M358.5,352 L373.8,358"/>
</g>
<path class="ds" d="M270.5,287 L264,319" />


<!-- MAIN PARTS -->
<g stroke-linejoin="round">
<!-- 8 bracket -->
<path d="M378,475 L383,472 L396,473.3 L397.5,478.3 L392.5,500 L388.3,518.3 L383.3,521.3 L378.3,516.7 L375.8,496.7 L377.5,483.3 Z" fill="#727272" stroke="#999" stroke-width="1"/>
<path d="M380,477 L394,476 L393.5,480 L381,481 Z" fill="#7e7e7e"/>
<!-- 10 bolt -->
<path d="M416,520 L432,527 L430,533 L414,526 Z" fill="#5a5a5a" stroke="#3a3a3a" stroke-width="0.8"/>
<ellipse cx="416" cy="524" rx="2.5" ry="3.5" fill="#777" stroke="#444" stroke-width="0.6" transform="rotate(25 416 524)"/>
<path d="M432,531 L440,535" stroke="#444" stroke-width="1.2"/>
<!-- 5 gasket -->
<path d="M361,563 C365,563 367,567 366,572 C369,574 371,577 371,581 C373,586 373,595 370,603 C369,607 369,609 368,611 C367,615 362,616 360,613 C357,611 355,607 354,602 C350,595 350,583 352,578 C349,578 348,574 351,573 C353,572 356,572 357,571 C357,566 358,563 361,563 Z" fill="#9a9a9a" stroke="#555" stroke-width="1.1"/>
<ellipse cx="361" cy="589" rx="6.5" ry="9" fill="#fff" stroke="#5a5a5a" stroke-width="1" transform="rotate(-10 361 589)"/>
<ellipse cx="361.5" cy="568" rx="2.8" ry="3" fill="#fff" stroke="#5a5a5a" stroke-width="0.7"/>
<ellipse cx="364" cy="610" rx="2.8" ry="3" fill="#fff" stroke="#5a5a5a" stroke-width="0.7"/>
<path d="M349,574 L353,573 M351,602 L355,602" stroke="#666" stroke-width="1.5"/>
<!-- COOLER -->
<path d="M404,552 L419,548 L441,542 L465,536 L487,532 L498,536 L509,553 L510,561 L504,564 L492,562 L486,567 L474,580 L407,600 Z" fill="#787878" stroke="#505050" stroke-width="0.8"/>
<path d="M404,552 L419,548 L441,542 L465,536 L487,532 L492,540 L488,548 L417,568 L406,570 Z" fill="#747474"/>
<path d="M406,570 L417,568 L488,548 L486,567 L474,580 L417,592 L407,594 Z" fill="#8e8e8e"/>
<path d="M407,594 L417,592 L474,580 L472,586 L420,600 L407,601 Z" fill="#4e4e4e"/>
<g stroke="#c6c6c6" stroke-width="1.1">
<path d="M417,569 L417,591 M430,565 L429,588 M444,561 L443,584 M456,558 L455,582 M466,555 L465,580 M476,552 L475,578"/>
</g>
<g stroke="#777" stroke-width="0.6"><path d="M420,552 L480,538 M420,557 L482,542 M420,562 L485,546"/></g>
<path d="M383,581 L385,568 L391,556 L392,544 L398.7,535 L404,539 L403,551 L406.4,559 L407.2,599.5 L400.2,605.8 L393.2,602.6 L386.2,593.3 Z" fill="#9a9a9a" stroke="#5a5a5a" stroke-width="0.8"/>
<ellipse cx="394.5" cy="580" rx="4.8" ry="6.5" fill="#353535"/>
<ellipse cx="399" cy="541" rx="5.5" ry="5.5" fill="#8a8a8a" stroke="#555" stroke-width="0.8"/>
<ellipse cx="399.5" cy="541.5" rx="3" ry="3.2" fill="#f0f0f0" stroke="#666" stroke-width="0.6"/>
<path d="M394,548 L397,555 M400,548 L403,555" stroke="#ddd" stroke-width="1.5"/>
<circle cx="400" cy="603" r="2" fill="#ddd" stroke="#777" stroke-width="0.5"/>
<path d="M420,574 L430,570 L434,576 L424,580 Z" fill="#d0d0d0" stroke="#777" stroke-width="0.6"/>
<!-- right end flange -->
<path d="M487,534 L498,536 L509,553 L510,560.6 L504.4,563.8 L492,562.2 L486,567 Z" fill="#8a8a8a" stroke="#555" stroke-width="0.8"/>
<circle cx="503" cy="556" r="2.2" fill="#bbb"/>
<!-- top housing -->
<path d="M441,541 L450,536 L455,530 L455,522 C455,516 464,516 464,522 L465,531 L476,530 L489,531 L486,543 L465,549 L450,547 Z" fill="#666" stroke="#4a4a4a" stroke-width="0.8"/>
<circle cx="446" cy="537" r="4" fill="#7d7d7d" stroke="#555" stroke-width="0.6"/>
<!-- thermostat valve -->
<path d="M474,517 L487,521 L484,531 L473,529 Z" fill="#5c5c5c" stroke="#444" stroke-width="0.6"/>
<g transform="rotate(18 486 506)">
<path d="M474,498 C474,494 498,494 498,498 L497,516 C497,521 475,521 475,516 Z" fill="#d4d4d4" stroke="#8a8a8a" stroke-width="0.8"/>
<path d="M474.5,503 C480,506 492,506 497.5,503 M475,508.5 C481,511.5 491,511.5 497,508.5 M475,513.5 C481,516.5 491,516.5 497,513.5" stroke="#a0a0a0" fill="none" stroke-width="0.9"/>
<ellipse cx="486" cy="497.5" rx="12" ry="3" fill="#c8c8c8" stroke="#8a8a8a" stroke-width="0.7"/>
<path d="M482,497 L482,489 C482,486 490,486 490,489 L490,497 Z" fill="#cfcfcf" stroke="#888" stroke-width="0.7"/>
</g>
<path d="M454,519 C454,513 464,513 464,519 L463,530 L455,530 Z" fill="#6e6e6e" stroke="#4a4a4a" stroke-width="0.7"/>
<ellipse cx="459" cy="520" rx="2.5" ry="3" fill="#9a9a9a"/>
</g>


<!-- RIGHT PARTS -->
<g stroke-linejoin="round">
<!-- gasket 4 upper -->
<path d="M583.3,458.3 C584.4,458.2 588.0,457.6 590.0,457.8 C592.0,458.0 594.3,458.6 595.5,459.5 C596.7,460.4 597.2,462.1 597.0,463.5 C596.8,464.9 595.5,466.2 594.0,468.0 C592.5,469.8 590.2,471.7 588.0,474.0 C585.8,476.3 583.1,479.5 581.0,482.0 C578.9,484.5 577.0,486.8 575.5,489.0 C574.0,491.2 573.4,493.5 572.0,495.0 C570.6,496.5 568.6,498.0 567.0,498.0 C565.4,498.0 563.2,496.3 562.5,495.0 C561.8,493.7 562.4,492.2 563.0,490.0 C563.6,487.8 565.1,485.0 566.0,482.0 C566.9,479.0 567.3,475.2 568.5,472.0 C569.7,468.8 571.4,465.1 573.0,463.0 C574.6,460.9 576.3,460.3 578.0,459.5 C579.7,458.7 582.4,458.5 583.3,458.3Z" fill="#9c9c9c" stroke="#555" stroke-width="1"/>
<ellipse cx="580.8" cy="471.7" rx="5" ry="8.5" fill="#fff" stroke="#5a5a5a" stroke-width="0.9" transform="rotate(28 580.8 471.7)"/>
<circle cx="592.3" cy="462.3" r="2.3" fill="#fff" stroke="#5a5a5a" stroke-width="0.7"/>
<circle cx="566" cy="493.5" r="2.6" fill="#fff" stroke="#5a5a5a" stroke-width="0.7"/>
<path d="M592,468 L596,471 M569,490 L575,491" stroke="#666" stroke-width="1.4"/>
<!-- gasket 4 lower -->
<path d="M565.8,524.0 C566.3,522.5 566.9,517.5 569.0,515.0 C571.1,512.5 575.5,509.8 578.3,508.8 C581.1,507.8 583.7,508.3 586.0,509.0 C588.3,509.7 590.0,510.5 592.0,513.0 C594.0,515.5 596.4,520.7 598.3,524.0 C600.2,527.3 603.0,530.7 603.5,533.0 C604.0,535.3 602.6,537.2 601.0,537.8 C599.4,538.4 596.8,537.3 594.0,536.5 C591.2,535.7 587.3,533.9 584.0,533.0 C580.7,532.1 576.9,531.7 574.0,531.0 C571.1,530.3 567.9,530.2 566.5,529.0 C565.1,527.8 565.9,524.8 565.8,524.0Z" fill="#9c9c9c" stroke="#555" stroke-width="1"/>
<ellipse cx="584.2" cy="521.5" rx="6.5" ry="8.5" fill="#fff" stroke="#5a5a5a" stroke-width="0.9" transform="rotate(-20 584.2 521.5)"/>
<circle cx="569.4" cy="524.5" r="2.6" fill="#fff" stroke="#5a5a5a" stroke-width="0.7"/>
<circle cx="600" cy="534" r="2.4" fill="#fff" stroke="#5a5a5a" stroke-width="0.7"/>
<path d="M594,517 L598,516" stroke="#666" stroke-width="1.4"/>
<!-- flange 2 -->
<path d="M627.9,474.2 L635,473.2 L647.8,479.2 L653.5,493.4 L652.8,503.4 L647.8,507 L642.1,509.8 L647.8,514.8 L652,520.5 L647.8,525.5 L626.4,524.7 L608.7,523.3 L603.7,518.3 L608,505 L613,490 L618,483.5 L626.4,481.4 Z" fill="#9a9a9a" stroke="#6a6a6a" stroke-width="0.8"/>
<path d="M613,490 L618,483.5 L626.4,481.4 L632,490 L628,496 L619.3,494.9 L612.2,497 L607,510 Z" fill="#858585"/>
<path d="M603.7,518.3 L608,505 L612.2,497 L619.3,494.9 L630,497 L642.1,509.8 L647.8,514.8 L652,520.5 L647.8,525.5 L626.4,524.7 L608.7,523.3 Z" fill="#a2a2a2" stroke="#777" stroke-width="0.6"/>
<ellipse cx="641.4" cy="489.2" rx="7" ry="9.2" fill="#727272" stroke="#888" stroke-width="0.8"/>
<ellipse cx="626.4" cy="509.1" rx="5" ry="7" fill="#757575" stroke="#888" stroke-width="0.7"/>
<circle cx="613.6" cy="512.7" r="2.5" fill="#666"/>
<path d="M632,476 L638,476" stroke="#eee" stroke-width="1.5"/>
<!-- EGR valve 3 -->
<ellipse cx="658.4" cy="484.7" rx="5" ry="6.5" fill="#8a8a8a" stroke="#666" stroke-width="0.7"/>
<path d="M661,465.3 L670.3,464.4 L672,470.3 L673.6,492.3 L668.6,493.1 L664.4,478.8 Z" fill="#999" stroke="#666" stroke-width="0.8"/>
<ellipse cx="692" cy="476" rx="20" ry="24" fill="#a8a8a8" stroke="#777" stroke-width="0.9" transform="rotate(-15 692 476)"/>
<ellipse cx="694" cy="475" rx="16" ry="20" fill="none" stroke="#808080" stroke-width="1" transform="rotate(-15 694 475)"/>
<ellipse cx="696" cy="474" rx="12" ry="15.5" fill="#9c9c9c" stroke="#7a7a7a" stroke-width="1" transform="rotate(-15 696 474)"/>
<ellipse cx="698" cy="473" rx="8" ry="10.5" fill="#a6a6a6" stroke="#7a7a7a" stroke-width="0.9" transform="rotate(-15 698 473)"/>
<path d="M697.3,457.7 L704,452.6 L710.8,465.3 L720.1,467.8 L721,471.2 L710.8,482.2 L700.7,481.3 L696,470 Z" fill="#9a9a9a" stroke="#6a6a6a" stroke-width="0.8"/>
<path d="M704,452.6 L710.8,465.3 L705,470 L699,459 Z" fill="#b0b0b0"/>
<path d="M710.8,465.3 L720.1,467.8 L721,471.2 L712,478 L706,472 Z" fill="#8c8c8c"/>
</g>
<!-- halo leaders -->
<g fill="none">
<path d="M527.5,504.7 V512.5 L472,529 V538 M398.7,541.2 L489.6,591.8 M605.8,530.9 L643.4,520.8 M613,519.4 L649,540 M392.5,506 L382,497" stroke="#444" stroke-width="2.6"/>
<path d="M527.5,504.7 V512.5 L472,529 V538 M398.7,541.2 L489.6,591.8 M605.8,530.9 L643.4,520.8 M613,519.4 L649,540 M392.5,506 L382,497" stroke="#fff" stroke-width="1.1"/>
</g>
<g class="ld">
<path d="M516.5,552 L510,556"/>
<path d="M634.7,476 L659.2,468.8"/>
<path d="M612,484 L624.6,479"/>
<path d="M650,518 L658,517.5"/>
<path d="M649,540 L657.5,546"/>
<path d="M567.2,492.8 L602.8,512.8"/>
<path d="M567.4,541 L599.4,533.9"/>
<path d="M606,531 L625,526"/>
</g>

<!-- DASHED LINES -->
<g class="ds">
<path d="M262,517 L271,515 L311,538 L250,555 L352,613 L361,611"/>
<path d="M372,608 L395,601"/>
<path d="M305,452 L373,490"/>
<path d="M348.7,454 L420,434.7"/>
<path d="M437.5,430 L485.3,418 L569,466"/>
<path d="M342.5,450.5 L348.7,454"/>
<path d="M511.7,425 V494 H501"/>
<path d="M511.7,425 H521"/>
<path d="M222,485 L233,483"/>
<path d="M239,524 L250,521"/>
<path d="M368.7,437 V468"/>
</g>
<!-- LEADERS -->
<g class="ld">
<path d="M259,344V355"/>
<path d="M319,336V356"/>
<path d="M368,360V384"/>
<path d="M460,328V348"/>
<path d="M433,391H450"/>
<path d="M400,477H421"/>
<path d="M425,503V528"/>
<path d="M361,544V561"/>
<path d="M633.5,413V472"/>
<path d="M601,474V423H667V431M667,446V463"/>
<path d="M581.5,447V460"/>
<path d="M601,535V556"/>
<path d="M538,494H545.5V580H478M538,551.3H545.5M545.5,536H553"/>
<path d="M268,330L288,325"/>
</g>
<!-- CIRCLES -->
<g class="c">
<circle cx="368.7" cy="426.7" r="10.3"/>
<circle cx="402.8" cy="508.3" r="10.3"/>
<circle cx="219" cy="486.1" r="10.3"/>
<circle cx="235.6" cy="525" r="10.3"/>
<circle cx="527.5" cy="494.2" r="10.3"/>
<circle cx="527.5" cy="551.3" r="10.3"/>
<circle cx="500" cy="598.3" r="10.3"/>
<circle cx="601.5" cy="485.3" r="10.3"/>
<circle cx="668.4" cy="514.5" r="10.3"/>
<circle cx="668.2" cy="551.5" r="10.3"/>
</g>
<g class="t">
<text x="360.64" y="431.5">2</text><path transform="translate(368.70 431.5) scale(14.5)" d="M0.40,0 V-0.71 H0.275 C0.25,-0.63 0.16,-0.58 0.06,-0.575 V-0.46 H0.22 V0 Z" stroke-width="0.0241"/>
<text x="398.77" y="513.3">9</text>
<path transform="translate(210.94 491.0) scale(14.5)" d="M0.40,0 V-0.71 H0.275 C0.25,-0.63 0.16,-0.58 0.06,-0.575 V-0.46 H0.22 V0 Z" stroke-width="0.0241"/><path transform="translate(219.00 491.0) scale(14.5)" d="M0.40,0 V-0.71 H0.275 C0.25,-0.63 0.16,-0.58 0.06,-0.575 V-0.46 H0.22 V0 Z" stroke-width="0.0241"/>
<path transform="translate(227.54 530.0) scale(14.5)" d="M0.40,0 V-0.71 H0.275 C0.25,-0.63 0.16,-0.58 0.06,-0.575 V-0.46 H0.22 V0 Z" stroke-width="0.0241"/><text x="235.60" y="530.0">2</text>
<text x="523.47" y="499.2">6</text>
<text x="523.47" y="556.3">7</text>
<path transform="translate(491.94 603.3) scale(14.5)" d="M0.40,0 V-0.71 H0.275 C0.25,-0.63 0.16,-0.58 0.06,-0.575 V-0.46 H0.22 V0 Z" stroke-width="0.0241"/><text x="500.00" y="603.3">3</text>
<path transform="translate(593.44 490.3) scale(14.5)" d="M0.40,0 V-0.71 H0.275 C0.25,-0.63 0.16,-0.58 0.06,-0.575 V-0.46 H0.22 V0 Z" stroke-width="0.0241"/><text x="601.50" y="490.3">5</text>
<path transform="translate(660.34 519.5) scale(14.5)" d="M0.40,0 V-0.71 H0.275 C0.25,-0.63 0.16,-0.58 0.06,-0.575 V-0.46 H0.22 V0 Z" stroke-width="0.0241"/><text x="668.40" y="519.5">6</text>
<path transform="translate(660.14 556.5) scale(14.5)" d="M0.40,0 V-0.71 H0.275 C0.25,-0.63 0.16,-0.58 0.06,-0.575 V-0.46 H0.22 V0 Z" stroke-width="0.0241"/><text x="668.20" y="556.5">4</text>
</g>


<!-- TABLE PARTS -->
<defs>
<linearGradient id="gm" x1="0" x2="1" y1="0" y2="0"><stop offset="0" stop-color="#858585"/><stop offset="0.45" stop-color="#bdbdbd"/><stop offset="1" stop-color="#8a8a8a"/></linearGradient>
<linearGradient id="gd" x1="0" x2="1" y1="0" y2="0"><stop offset="0" stop-color="#3a3a3a"/><stop offset="0.5" stop-color="#6a6a6a"/><stop offset="1" stop-color="#3a3a3a"/></linearGradient>
</defs>
<g stroke="#777" stroke-width="0.8">
<!-- 16 nut -->
<ellipse cx="413" cy="287" rx="14" ry="7" fill="#a8a8a8"/>
<ellipse cx="413" cy="288.5" rx="12" ry="4.5" fill="#c9c9c9" stroke="none"/>
<path d="M404,275 L408,270.5 L419,270.5 L423,275 L423,283 L413,286 L404,283 Z" fill="url(#gm)"/>
<ellipse cx="413.5" cy="275" rx="6" ry="3.2" fill="#555" stroke="#888"/>
<!-- 15 bolt -->
<rect x="457" y="277" width="7.5" height="18" fill="url(#gm)"/>
<path d="M453.5,268 C453.5,264 467.7,264 467.7,268 L467.7,276 C467.7,280 453.5,280 453.5,276 Z" fill="url(#gm)"/>
<ellipse cx="460.6" cy="267.5" rx="4.5" ry="2" fill="#666"/>
<!-- 14 bolt -->
<rect x="505" y="274" width="7.3" height="20.5" fill="url(#gm)"/>
<ellipse cx="508.7" cy="270.5" rx="6.5" ry="5" fill="#c4c4c4"/>
<ellipse cx="508.7" cy="268.8" rx="3.5" ry="2" fill="#666"/>
<!-- 13 bolt -->
<rect x="552" y="279" width="7.3" height="15.5" fill="url(#gm)"/>
<path d="M548.4,269 C548.4,264 565.8,264 565.8,269 L565.8,277 C565.8,282 548.4,282 548.4,277 Z" fill="url(#gm)"/>
<ellipse cx="557" cy="268" rx="5" ry="2.2" fill="#555"/>
<!-- 12 bolt -->
<rect x="599.7" y="278" width="8" height="15" fill="url(#gm)"/>
<path d="M596,271 L600,267 L608,267 L611.3,271 L611.3,277 L607,279.5 L600,279.5 L596,277 Z" fill="url(#gm)"/>
<!-- 11 bolt -->
<rect x="653" y="303" width="4.5" height="17.5" fill="url(#gm)"/>
<rect x="648.7" y="299.5" width="12.7" height="6" rx="2" fill="url(#gm)"/>
<rect x="651" y="283" width="7.5" height="17" fill="url(#gm)"/>
<ellipse cx="655.6" cy="281" rx="10" ry="4" fill="#a0a0a0"/>
<path d="M648,276 L651,271.5 L660,271.5 L663,276 L662,280 L649,280 Z" fill="url(#gm)"/>
<!-- 6 grommet -->
<path d="M691,283.5 C691,279 694,277 696,276 L697,271 C699,268.5 708,268.5 711,271 L712,276 C714,277 716.3,279 716.3,283.5 C716.3,287 711,289 703.6,289 C696,289 691,287 691,283.5 Z" fill="#3a3a3a" stroke="#222"/>
<ellipse cx="704" cy="271.5" rx="6.5" ry="2.8" fill="#1e1e1e" stroke="#666" stroke-width="0.7"/>
<path d="M693,283 C697,286 711,286 715,283" fill="none" stroke="#6a6a6a" stroke-width="0.8"/>
<!-- 7 stud -->
<rect x="698.3" y="304.6" width="7.4" height="49.6" rx="2" fill="url(#gm)"/>
<path d="M698.3,337 H705.7 M698.3,340 H705.7" stroke="#ddd"/>
<!-- 9 bolt -->
<rect x="698.3" y="377" width="7.4" height="13" fill="url(#gm)"/>
<path d="M694.1,367 L698,363.7 L706,363.7 L710,367 L710,376 L705,378.5 L699,378.5 L694.1,376 Z" fill="url(#gm)"/>
<!-- 21 clip -->
<path d="M203.6,278.9 L216.4,274 L224.4,272.2 L225.3,282 L227.1,285.1 L217.3,289.6 L208,293.1 L204,288.7 Z" fill="#5a5a5a" stroke="#333" stroke-width="0.7"/>
<path d="M204.9,275.3 L217.3,267.8 L220.2,269.6 L216.4,274 L204,278.9 Z" fill="#b5b5b5" stroke="#777" stroke-width="0.5"/>
<path d="M212,287 L227.1,283 L226,287 L213,293 Z" fill="#c8c8c8" stroke="none"/>
<path d="M214,279 L224,276 L224.5,281 L215,284 Z" fill="#777" stroke="none"/>
<!-- 17 sensor -->
<path d="M241,324.5 L248,320.5 L256,321.5 L262,325 L267.5,327.8 L267.5,336 L262,341.5 L252,341.5 L243,339.5 L241,336 Z" fill="#555" stroke="#3a3a3a" stroke-width="0.7"/>
<path d="M241.5,325 L248,321 L256,322 L261,325.5 L254,327 Z" fill="#6e6e6e" stroke="none"/>
<path d="M242,326 L254,327.5 L254,333 L242,333 Z" fill="#4a4a4a" stroke="none"/>
<path d="M256,327 L267,328.5 L267,335 L256,337 Z" fill="#626262" stroke="none"/>
<ellipse cx="245" cy="336.5" rx="3.2" ry="2.5" fill="#a8a8a8" stroke="#666" stroke-width="0.5"/>
<rect x="262.5" y="319" width="2.6" height="7" fill="#c8c8c8" stroke="#888" stroke-width="0.5"/>
</g>

<!-- TABLE BOXES -->
<g class="bx">
<rect x="182.5" y="263.5" width="48" height="33"/>
<path d="M382.5 263.5H719.5V395.5H671.5V329.5H622.5V296.5H382.5Z"/>
<path d="M430.5 263.5V296.5M478.5 263.5V296.5M526.5 263.5V296.5M574.5 263.5V296.5M622.5 263.5V296.5M671.5 263.5V329.5M671.5 296.5H719.5M671.5 362.5H719.5"/>
<rect x="671.5" y="594.5" width="48" height="33"/>
</g><g>
<path d="M675.2,605.4 L681.8,608.3 L702.8,596.7 L716,604 L695.8,616.5 L700.8,620 L675.2,620 Z" fill="#fff" stroke="#222" stroke-width="0.9"/>
<path d="M675.2,620 H700.8 V624.5 H675.2 Z" fill="#111"/>
<path d="M716,604 L716,608.5 L699,618.5 L695.8,616.5 Z" fill="#111"/>
</g>


<!-- LABELS -->
<g class="t">
<text x="183.00" y="276.0">2</text><path transform="translate(191.06 276.0) scale(14.5)" d="M0.40,0 V-0.71 H0.275 C0.25,-0.63 0.16,-0.58 0.06,-0.575 V-0.46 H0.22 V0 Z" stroke-width="0.0241"/>
<path transform="translate(384.00 276.0) scale(14.5)" d="M0.40,0 V-0.71 H0.275 C0.25,-0.63 0.16,-0.58 0.06,-0.575 V-0.46 H0.22 V0 Z" stroke-width="0.0241"/><text x="392.06" y="276.0">6</text>
<path transform="translate(432.00 276.0) scale(14.5)" d="M0.40,0 V-0.71 H0.275 C0.25,-0.63 0.16,-0.58 0.06,-0.575 V-0.46 H0.22 V0 Z" stroke-width="0.0241"/><text x="440.06" y="276.0">5</text>
<path transform="translate(480.00 276.0) scale(14.5)" d="M0.40,0 V-0.71 H0.275 C0.25,-0.63 0.16,-0.58 0.06,-0.575 V-0.46 H0.22 V0 Z" stroke-width="0.0241"/><text x="488.06" y="276.0">4</text>
<path transform="translate(528.00 276.0) scale(14.5)" d="M0.40,0 V-0.71 H0.275 C0.25,-0.63 0.16,-0.58 0.06,-0.575 V-0.46 H0.22 V0 Z" stroke-width="0.0241"/><text x="536.06" y="276.0">3</text>
<path transform="translate(576.00 276.0) scale(14.5)" d="M0.40,0 V-0.71 H0.275 C0.25,-0.63 0.16,-0.58 0.06,-0.575 V-0.46 H0.22 V0 Z" stroke-width="0.0241"/><text x="584.06" y="276.0">2</text>
<path transform="translate(624.00 276.0) scale(14.5)" d="M0.40,0 V-0.71 H0.275 C0.25,-0.63 0.16,-0.58 0.06,-0.575 V-0.46 H0.22 V0 Z" stroke-width="0.0241"/><path transform="translate(632.06 276.0) scale(14.5)" d="M0.40,0 V-0.71 H0.275 C0.25,-0.63 0.16,-0.58 0.06,-0.575 V-0.46 H0.22 V0 Z" stroke-width="0.0241"/>
<text x="674.00" y="276.0">6</text>
<text x="674.00" y="309.0">7</text>
<text x="674.00" y="375.0">9</text>
<path transform="translate(250.94 371.0) scale(14.5)" d="M0.40,0 V-0.71 H0.275 C0.25,-0.63 0.16,-0.58 0.06,-0.575 V-0.46 H0.22 V0 Z" stroke-width="0.0241"/><text x="259.00" y="371.0">7</text>
<path transform="translate(310.94 371.0) scale(14.5)" d="M0.40,0 V-0.71 H0.275 C0.25,-0.63 0.16,-0.58 0.06,-0.575 V-0.46 H0.22 V0 Z" stroke-width="0.0241"/><text x="319.00" y="371.0">9</text>
<text x="359.94" y="396.0">2</text><text x="368.00" y="396.0">0</text>
<path transform="translate(451.94 326.0) scale(14.5)" d="M0.40,0 V-0.71 H0.275 C0.25,-0.63 0.16,-0.58 0.06,-0.575 V-0.46 H0.22 V0 Z" stroke-width="0.0241"/><text x="460.00" y="326.0">8</text>
<path transform="translate(451.94 396.0) scale(14.5)" d="M0.40,0 V-0.71 H0.275 C0.25,-0.63 0.16,-0.58 0.06,-0.575 V-0.46 H0.22 V0 Z" stroke-width="0.0241"/><text x="460.00" y="396.0">9</text>
<text x="421.47" y="482.0">8</text>
<path transform="translate(416.94 500.0) scale(14.5)" d="M0.40,0 V-0.71 H0.275 C0.25,-0.63 0.16,-0.58 0.06,-0.575 V-0.46 H0.22 V0 Z" stroke-width="0.0241"/><text x="425.00" y="500.0">0</text>
<text x="356.97" y="541.0">5</text>
<text x="629.47" y="411.0">2</text>
<text x="662.97" y="444.0">3</text>
<text x="577.47" y="444.0">4</text>
<text x="596.97" y="569.0">4</text>
<path transform="translate(553.97 541.0) scale(14.5)" d="M0.40,0 V-0.71 H0.275 C0.25,-0.63 0.16,-0.58 0.06,-0.575 V-0.46 H0.22 V0 Z" stroke-width="0.0241"/>
</g>
<text x="697" y="637" text-anchor="middle" style="font-family:'Liberation Sans',sans-serif;font-size:9px;fill:#555">249665</text>

</svg>
</body></html>
